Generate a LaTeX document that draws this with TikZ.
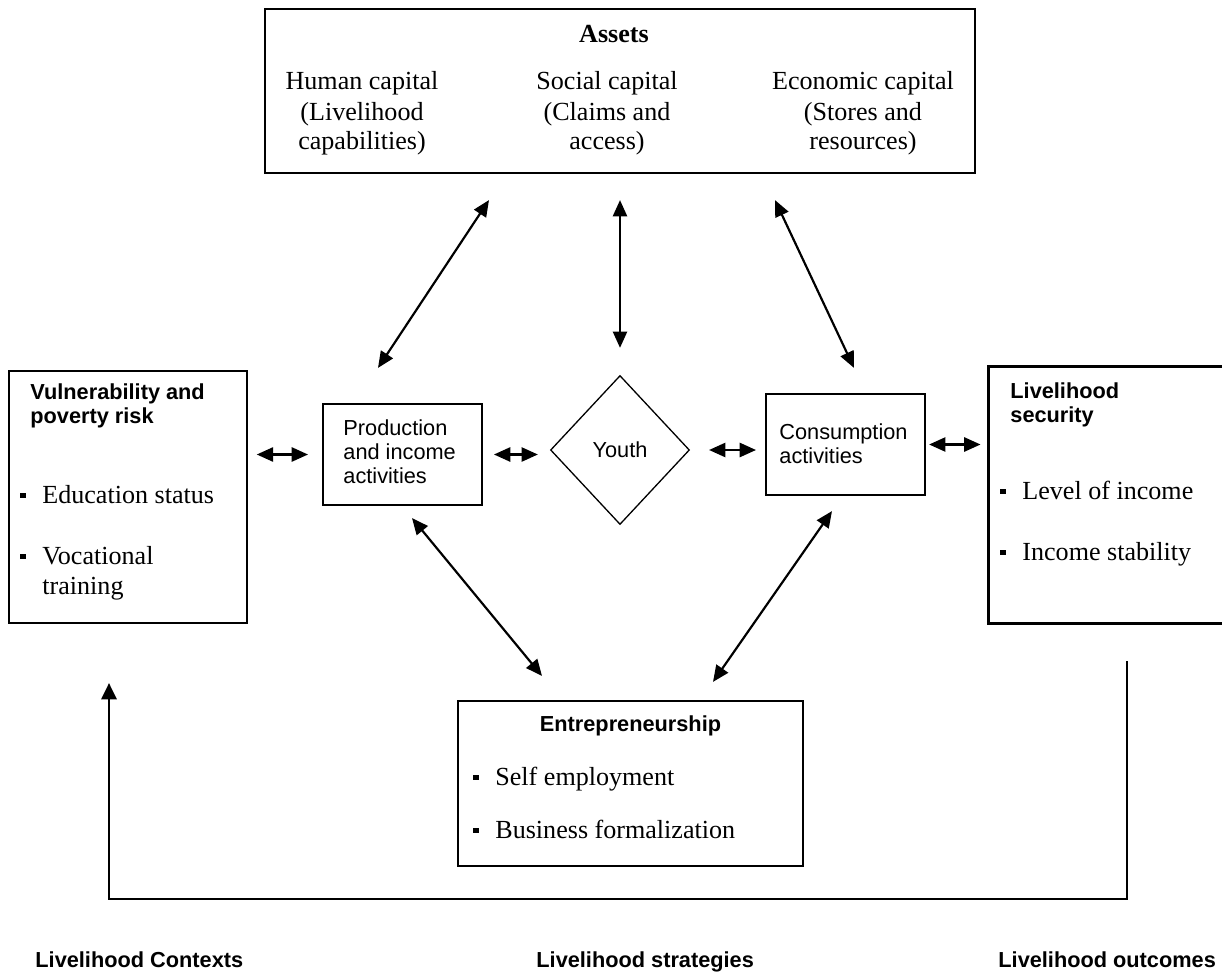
\documentclass[tikz,border=0pt]{standalone}
\usepackage{fontspec}
\setmainfont{Liberation Serif}
\setsansfont{Liberation Sans}
\usetikzlibrary{shapes.geometric,arrows.meta}
\newcommand\sqbul{\rule[2.4pt]{2.4pt}{2.4pt}\hspace{7.7pt}}

\begin{document}
\begin{tikzpicture}[x=0.46pt,y=-0.46pt,
    box/.style={draw,line width=1pt,inner sep=0pt},
    serif/.style={font=\fontsize{12}{13.8}\selectfont,inner sep=0pt},
    sans/.style={font=\fontsize{10}{11}\selectfont\sffamily,inner sep=0pt},
    head/.style={font=\fontsize{10}{10.6}\selectfont\sffamily\bfseries,inner sep=0pt},
    dbl/.style={{Triangle[length=7.5pt,width=6.5pt]}-{Triangle[length=7.5pt,width=6.5pt]},line width=1pt},
    feedback/.style={-{Triangle[length=7.5pt,width=7pt]},line width=1.1pt}]
    \useasboundingbox (0,0) rectangle (1222,975);

    % Assets
    \node[box,minimum width=710*0.46pt,minimum height=164*0.46pt] (assets) at (620,91) {};
    \node[serif,anchor=base] (assetsT) at (614,43) {\bfseries Assets};
    \node[serif,anchor=base,align=center] (human) at (362,150) {Human capital\\(Livelihood\\capabilities)};
    \node[serif,anchor=base,align=center] (social) at (607,150) {Social capital\\(Claims and\\access)};
    \node[serif,anchor=base,align=center] (econ) at (863,150) {Economic capital\\(Stores and\\resources)};

    % Contexts
    \node[box,minimum width=238*0.46pt,minimum height=252*0.46pt] (vuln) at (128,497) {};
    \node[head,anchor=base west,align=left] (vulnT) at (30,423) {Vulnerability and\\poverty risk};
    \node[serif,anchor=base west] (educ) at (20,503) {\sqbul Education status};
    \node[serif,anchor=base west,align=left] (voc) at (20,594) {\sqbul Vocational\\\hspace*{10.1pt}training};

    % Strategies
    \node[box,minimum width=159*0.46pt,minimum height=101*0.46pt] (prod) at (402.5,454.5) {};
    \node[sans,anchor=base west,align=left] (prodT) at (343,483) {Production\\and income\\activities};
    \node[diamond,draw,line width=0.6pt,minimum width=139*0.46pt,minimum height=149*0.46pt,sans] (youth) at (620,450) {Youth};
    \node[box,minimum width=159*0.46pt,minimum height=101*0.46pt] (cons) at (845.5,444.5) {};
    \node[sans,anchor=base west,align=left] (consT) at (779,463) {Consumption\\activities};

    % Outcomes (right side runs off the page)
    \node[minimum width=233*0.46pt,minimum height=256*0.46pt,inner sep=0pt] (secu) at (1105.5,495) {};
    \draw[line width=1pt] (secu.north east) -| (secu.south west) -- (secu.south east);
    \node[head,anchor=base west,align=left] (secuT) at (1010,422) {Livelihood\\security};
    \node[serif,anchor=base west] (income) at (1000,499) {\sqbul Level of income};
    \node[serif,anchor=base west] (stab) at (1000,560) {\sqbul Income stability};

    % Entrepreneurship
    \node[box,minimum width=345*0.46pt,minimum height=165*0.46pt] (entr) at (630.5,783.5) {};
    \node[head,anchor=base] (entrT) at (630.5,731) {Entrepreneurship};
    \node[serif,anchor=base west] (self) at (473,785) {\sqbul Self employment};
    \node[serif,anchor=base west] (form) at (473,838) {\sqbul Business formalization};

    % links
    \draw[dbl,shorten <=4pt,shorten >=6.4pt] (vuln.east |- prod.west) -- (prod.west);
    \draw[dbl,shorten <=5pt,shorten >=5.5pt] (prod.east) -- (prod.east -| youth.west);
    \draw[dbl,shorten <=8.7pt,shorten >=4.1pt] (youth.east) -- (youth.east -| cons.west);
    \draw[dbl,shorten <=1.4pt,shorten >=3.7pt] (cons.east) -- (cons.east -| secu.west);
    \draw[dbl] ([shift={(-131,26)}]assets.south) -- ([shift={(-24.5,-35)}]prod.north);
    \draw[dbl] ([shift={(0,26)}]assets.south) -- ([shift={(0,-27)}]youth.north);
    \draw[dbl] ([shift={(155,26)}]assets.south) -- ([shift={(8.5,-25)}]cons.north);
    \draw[dbl] ([shift={(9.5,12)}]prod.south) -- ([shift={(-88.5,-24)}]entr.north);
    \draw[dbl] ([shift={(-13.5,15)}]cons.south) -- ([shift={(82.5,-18)}]entr.north);
    \draw[feedback] ([shift={(21.5,38)}]secu.south) |- ([shift={(-19,275)}]vuln.south) -- ([shift={(-19,59)}]vuln.south);

    % Bottom
    \node[head,anchor=base west] (ctx) at (35,967) {Livelihood Contexts};
    \node[head,anchor=base west] (strat) at (536,967) {Livelihood strategies};
    \node[head,anchor=base west] (outc) at (998,967) {Livelihood outcomes};
\end{tikzpicture}
\end{document}
